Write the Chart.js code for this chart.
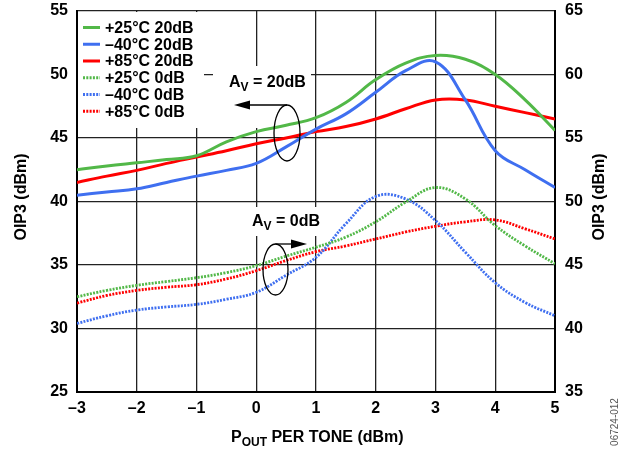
<!DOCTYPE html>
<html>
<head>
<meta charset="utf-8">
<script src="https://cdn.jsdelivr.net/npm/chart.js@4.4.1/dist/chart.umd.min.js"></script>
<style>
  html, body { margin: 0; padding: 0; background: #fff; }
  canvas { display: block; }
</style>
</head>
<body>
<canvas id="chart" width="626" height="450"></canvas>
<script>
const FONT = '"Liberation Sans", Arial, Helvetica, sans-serif';

// P_OUT per tone (dBm)
const P_OUT = [-3, -2.5, -2, -1.5, -1, -0.5, 0, 0.5, 1, 1.5, 2, 2.5, 3, 3.5, 4, 4.5, 5];
const X_TICK_LABELS = ["–3", "–2", "–1", "0", "1", "2", "3", "4", "5"];

// AV = 20dB, left axis (dBm)
const p25_20dB = [42.5, 42.8, 43.05, 43.3, 43.6, 44.7, 45.5, 46.0, 46.6, 47.8, 49.6, 50.9, 51.5, 51.2, 50.0, 48.0, 45.6];
const m40_20dB = [40.5, 40.75, 41.0, 41.5, 42.0, 42.45, 43.0, 44.3, 45.7, 46.9, 48.6, 50.3, 51.0, 48.0, 44.0, 42.5, 41.1];
const p85_20dB = [41.5, 42.0, 42.45, 43.0, 43.5, 44.0, 44.55, 45.0, 45.5, 45.9, 46.5, 47.3, 48.0, 48.0, 47.5, 47.0, 46.5];

// AV = 0dB, right axis (dBm)
const p25_0dB = [42.5, 43.0, 43.4, 43.7, 44.0, 44.4, 44.95, 45.7, 46.4, 47.2, 48.4, 49.95, 51.1, 50.2, 48.1, 46.5, 45.1];
const m40_0dB = [40.4, 41.0, 41.45, 41.7, 41.9, 42.3, 42.85, 44.2, 45.6, 48.25, 50.4, 50.2, 48.5, 46.0, 43.6, 42.05, 41.0];
const p85_0dB = [42.0, 42.6, 43.0, 43.25, 43.45, 43.9, 44.55, 45.35, 46.05, 46.5, 47.05, 47.6, 48.05, 48.4, 48.55, 47.85, 47.05];

const GREEN = "#52b848", BLUE = "#3f6ff0", RED = "#ff0000";

const pts = vals => vals.map((v, i) => ({ x: P_OUT[i], y: v }));

function series(label, vals, color, axis, dotted) {
  return {
    label,
    data: pts(vals),
    borderColor: color,
    backgroundColor: color,
    borderWidth: dotted ? 2.8 : 3,
    borderDash: dotted ? [2, 1.3] : [],
    pointRadius: 0,
    tension: 0.4,
    fill: false,
    yAxisID: axis,
  };
}

function drawSubText(ctx, x, y, main, sub, rest, size) {
  ctx.font = `bold ${size}px ${FONT}`;
  ctx.fillText(main, x, y);
  x += ctx.measureText(main).width;
  ctx.font = `bold ${Math.round(size * 0.72)}px ${FONT}`;
  ctx.fillText(sub, x, y + 4);
  x += ctx.measureText(sub).width;
  ctx.font = `bold ${size}px ${FONT}`;
  ctx.fillText(rest, x, y);
}

function arrowHead(ctx, tipX, y, dir) {
  ctx.beginPath();
  ctx.moveTo(tipX, y);
  ctx.lineTo(tipX - dir * 16, y - 4.5);
  ctx.lineTo(tipX - dir * 16, y + 4.5);
  ctx.closePath();
  ctx.fill();
}

const decor = {
  id: "decor",
  beforeDatasetsDraw(chart) {
    const { ctx, chartArea: a } = chart;
    ctx.save();
    ctx.fillStyle = "#fff";
    ctx.fillRect(a.left + 1, a.top + 1, 203 - a.left, 127 - a.top);   // legend box
    ctx.fillRect(213, 66, 98, 62);                                     // AV = 20dB label
    ctx.fillRect(248, 207, 78, 29);                                    // AV = 0dB label
    ctx.restore();
  },
  afterDatasetsDraw(chart) {
    const { ctx } = chart;
    ctx.save();
    ctx.fillStyle = "#000";
    ctx.strokeStyle = "#000";
    ctx.textBaseline = "alphabetic";

    // legend
    chart.data.datasets.forEach((ds, i) => {
      const y = 27.5 + i * 16.75;
      ctx.beginPath();
      ctx.lineWidth = 3;
      ctx.strokeStyle = ds.borderColor;
      ctx.setLineDash(ds.borderDash || []);
      ctx.moveTo(83, y);
      ctx.lineTo(100, y);
      ctx.stroke();
      ctx.setLineDash([]);
      ctx.fillStyle = "#000";
      ctx.font = `bold 16px ${FONT}`;
      ctx.textBaseline = "middle";
      ctx.fillText(ds.label, 105, y + 1);
    });
    ctx.textBaseline = "alphabetic";

    // AV = 20dB annotation
    ctx.fillStyle = "#000";
    drawSubText(ctx, 229, 87, "A", "V", " = 20dB", 16);
    ctx.strokeStyle = "#000";
    ctx.lineWidth = 1.3;
    ctx.beginPath();
    ctx.ellipse(287, 133, 13, 28, 0, 0, Math.PI * 2);
    ctx.stroke();
    ctx.beginPath();
    ctx.moveTo(287, 105);
    ctx.lineTo(245, 105);
    ctx.stroke();
    arrowHead(ctx, 234, 105, -1);

    // AV = 0dB annotation
    drawSubText(ctx, 252, 226, "A", "V", " = 0dB", 16);
    ctx.beginPath();
    ctx.ellipse(275.5, 269.5, 12.5, 25.5, 0, 0, Math.PI * 2);
    ctx.stroke();
    ctx.beginPath();
    ctx.moveTo(275.5, 244);
    ctx.lineTo(297, 244);
    ctx.stroke();
    arrowHead(ctx, 307, 244, 1);

    // axis titles
    drawSubText(ctx, 231, 442, "P", "OUT", " PER TONE (dBm)", 16);
    ctx.font = `bold 16px ${FONT}`;
    ctx.textAlign = "center";
    ctx.textBaseline = "middle";
    [[22, "OIP3 (dBm)"], [600, "OIP3 (dBm)"]].forEach(([x, t]) => {
      ctx.save();
      ctx.translate(x, 197);
      ctx.rotate(-Math.PI / 2);
      ctx.fillText(t, 0, 0);
      ctx.restore();
    });

    // figure id
    ctx.fillStyle = "#555";
    ctx.font = `10px ${FONT}`;
    ctx.save();
    ctx.translate(615, 422);
    ctx.rotate(-Math.PI / 2);
    ctx.fillText("06724-012", 0, 0);
    ctx.restore();
    ctx.restore();
  },
};

const gridStyle = { color: "#222", lineWidth: 1.3, drawTicks: false };
const tickFont = { family: FONT, size: 16, weight: "bold" };
const fixWidth = w => s => { s.width = w; s.paddingTop = 0; s.paddingBottom = 0; };

new Chart(document.getElementById("chart").getContext("2d"), {
  type: "line",
  data: {
    datasets: [
      series("+25°C 20dB", p25_20dB, GREEN, "y", false),
      series("–40°C 20dB", m40_20dB, BLUE, "y", false),
      series("+85°C 20dB", p85_20dB, RED, "y", false),
      series("+25°C 0dB", p25_0dB, GREEN, "y1", true),
      series("–40°C 0dB", m40_0dB, BLUE, "y1", true),
      series("+85°C 0dB", p85_0dB, RED, "y1", true),
    ],
  },
  options: {
    responsive: false,
    animation: false,
    layout: { padding: { top: 11, left: 0, right: 0, bottom: 0 } },
    plugins: { legend: { display: false }, tooltip: { enabled: false } },
    scales: {
      x: {
        type: "linear",
        min: -3,
        max: 5,
        grid: gridStyle,
        border: { color: "#000", width: 2 },
        ticks: {
          stepSize: 1,
          padding: 7,
          color: "#000",
          font: tickFont,
          callback: (v, i) => X_TICK_LABELS[i],
        },
        afterFit: s => { s.height = 58; },
      },
      y: {
        position: "left",
        min: 25,
        max: 55,
        grid: gridStyle,
        border: { color: "#000", width: 2 },
        ticks: { stepSize: 5, padding: 9, color: "#000", font: tickFont },
        afterFit: fixWidth(77),
      },
      y1: {
        position: "right",
        min: 35,
        max: 65,
        grid: { drawOnChartArea: false, drawTicks: false },
        border: { color: "#000", width: 2 },
        ticks: { stepSize: 5, padding: 10, color: "#000", font: tickFont },
        afterFit: fixWidth(71),
      },
    },
  },
  plugins: [decor],
});
</script>
</body>
</html>
